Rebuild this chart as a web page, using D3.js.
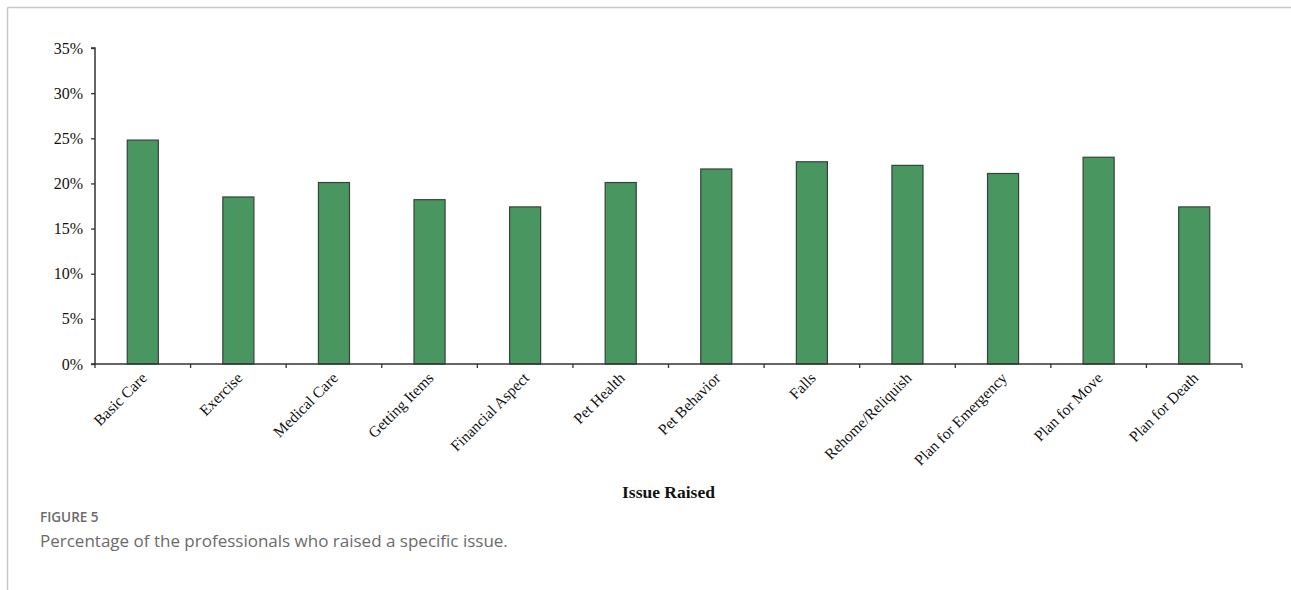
<!DOCTYPE html>
<html>
<head>
<meta charset="utf-8">
<script src="https://cdn.jsdelivr.net/npm/d3@7"></script>
<style>
  html, body { margin: 0; padding: 0; background: #fff; }
  svg { display: block; }
</style>
</head>
<body>
<script>
const categories = ["Basic Care", "Exercise", "Medical Care", "Getting Items", "Financial Aspect",
  "Pet Health", "Pet Behavior", "Falls", "Rehome/Reliquish", "Plan for Emergency", "Plan for Move", "Plan for Death"];
const values = [24.8, 18.5, 20.1, 18.2, 17.4, 20.1, 21.6, 22.4, 22.0, 21.1, 22.9, 17.4];
const yTicks = [0, 5, 10, 15, 20, 25, 30, 35];
const xTitle = "Issue Raised";
const figLabel = "FIGURE 5";
const caption = "Percentage of the professionals who raised a specific issue.";

const W = 1291, H = 590;
const svg = d3.select("body").append("svg").attr("width", W).attr("height", H);

// frame
svg.append("line").attr("x1", 7.5).attr("x2", W).attr("y1", 7.5).attr("y2", 7.5)
  .attr("stroke", "#c8c8c8").attr("stroke-width", 1.5);
svg.append("line").attr("x1", 7.5).attr("x2", 7.5).attr("y1", 7.5).attr("y2", H)
  .attr("stroke", "#c8c8c8").attr("stroke-width", 1.5);

const x0 = 95, x1 = 1242, yBase = 364, yTop = 48;
const x = d3.scaleBand().domain(categories).range([x0, x1]).paddingInner(0.675).paddingOuter(0.3375);
const xb = d3.scaleBand().domain(categories).range([x0, x1]);
const y = d3.scaleLinear().domain([0, 35]).range([yBase, yTop]);

// bars
svg.append("g").selectAll("rect").data(values).join("rect")
  .attr("x", (d, i) => x(categories[i]))
  .attr("y", d => y(d))
  .attr("width", x.bandwidth())
  .attr("height", d => y(0) - y(d))
  .attr("fill", "#4a9661")
  .attr("stroke", "#34443a")
  .attr("stroke-width", 1.2);

// y axis
const yAxis = d3.axisLeft(y).tickValues(yTicks).tickFormat(d => d + "%").tickSize(4).tickPadding(8);
const gy = svg.append("g").attr("transform", `translate(${x0},0)`).call(yAxis);
gy.select(".domain").attr("stroke", "#333").attr("stroke-width", 1.5).attr("d", `M-4,${yTop}H0V${yBase}H-4`);
gy.selectAll(".tick line").attr("stroke", "#333").attr("stroke-width", 1.3);
gy.selectAll("text").attr("font-family", "Liberation Serif, serif").attr("font-size", 16).attr("fill", "#111");

// x axis line with ticks at band boundaries
const gx = svg.append("g");
gx.append("line").attr("x1", x0).attr("x2", x1).attr("y1", yBase).attr("y2", yBase)
  .attr("stroke", "#333").attr("stroke-width", 1.5);
const bounds = categories.map(c => xb(c)).concat([x1]);
gx.selectAll("line.tk").data(bounds).join("line").attr("class", "tk")
  .attr("x1", d => d).attr("x2", d => d).attr("y1", yBase).attr("y2", yBase + 4)
  .attr("stroke", "#333").attr("stroke-width", 1.3);

// x labels
gx.selectAll("text.lbl").data(categories).join("text").attr("class", "lbl")
  .attr("transform", d => `translate(${xb(d) + xb.bandwidth() / 2 + 5},${yBase + 15}) rotate(-45)`)
  .attr("text-anchor", "end")
  .attr("font-family", "Liberation Serif, serif").attr("font-size", 15.5).attr("fill", "#111")
  .text(d => d);

// x title
svg.append("text").attr("x", (x0 + x1) / 2).attr("y", 498).attr("text-anchor", "middle")
  .attr("font-family", "Liberation Serif, serif").attr("font-size", 17.5).attr("font-weight", "bold").attr("fill", "#111")
  .text(xTitle);

// caption
svg.append("text").attr("x", 40).attr("y", 522)
  .attr("font-family", "Open Sans, sans-serif").attr("font-size", 13.5).attr("font-weight", 600).attr("fill", "#6b6b6b")
  .text(figLabel);
svg.append("text").attr("x", 40).attr("y", 547)
  .attr("font-family", "Open Sans, sans-serif").attr("font-size", 17).attr("fill", "#6b6b6b")
  .text(caption);
</script>
</body>
</html>
